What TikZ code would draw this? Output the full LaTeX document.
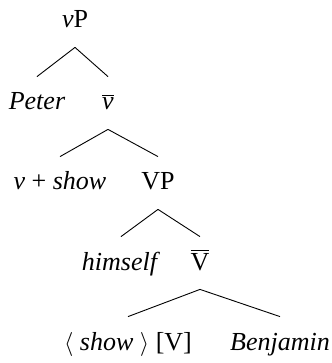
\documentclass[tikz,border=0pt]{standalone}
\usepackage{fontspec}
\setmainfont{Liberation Serif}
\tikzset{word/.style={anchor=base,inner xsep=0pt,inner ysep=9pt,text height=7.5pt,text depth=0.5pt,font=\fontsize{13}{15}\selectfont},branch/.style={line width=0.45pt}}

\begin{document}
\begin{tikzpicture}[x=0.5pt,y=-0.5pt]
\useasboundingbox (0,0) rectangle (331,363);
\node[word] (vP) at (75,28) {\textit{v}P};
\node[word] (Peter) at (37,110) {\textit{Peter}};
\node[word] (vbar) at (108,110) {$\overline{\mbox{\textit{v}}}$};
\node[word] (vshow) at (60,190) {\textit{v} + \textit{show}};
\node[word] (VP) at (158,190) {VP};
\node[word] (himself) at (121,270) {\textit{himself}};
\node[word] (Vbar) at (200,270) {$\overline{\mbox{V}}$};
\node[word] (showV) at (128,350) {$\langle$ \textit{show} $\rangle$ [V]};
\node[word] (Benjamin) at (280,350) {\textit{Benjamin}};
\draw[branch] (vP.south)--(Peter.north);
\draw[branch] (vP.south)--(vbar.north);
\draw[branch] (vbar.south)--(vshow.north);
\draw[branch] (vbar.south)--(VP.north);
\draw[branch] (VP.south)--(himself.north);
\draw[branch] (VP.south)--(Vbar.north);
\draw[branch] (Vbar.south)--(showV.north);
\draw[branch] (Vbar.south)--(Benjamin.north);
\end{tikzpicture}
\end{document}
